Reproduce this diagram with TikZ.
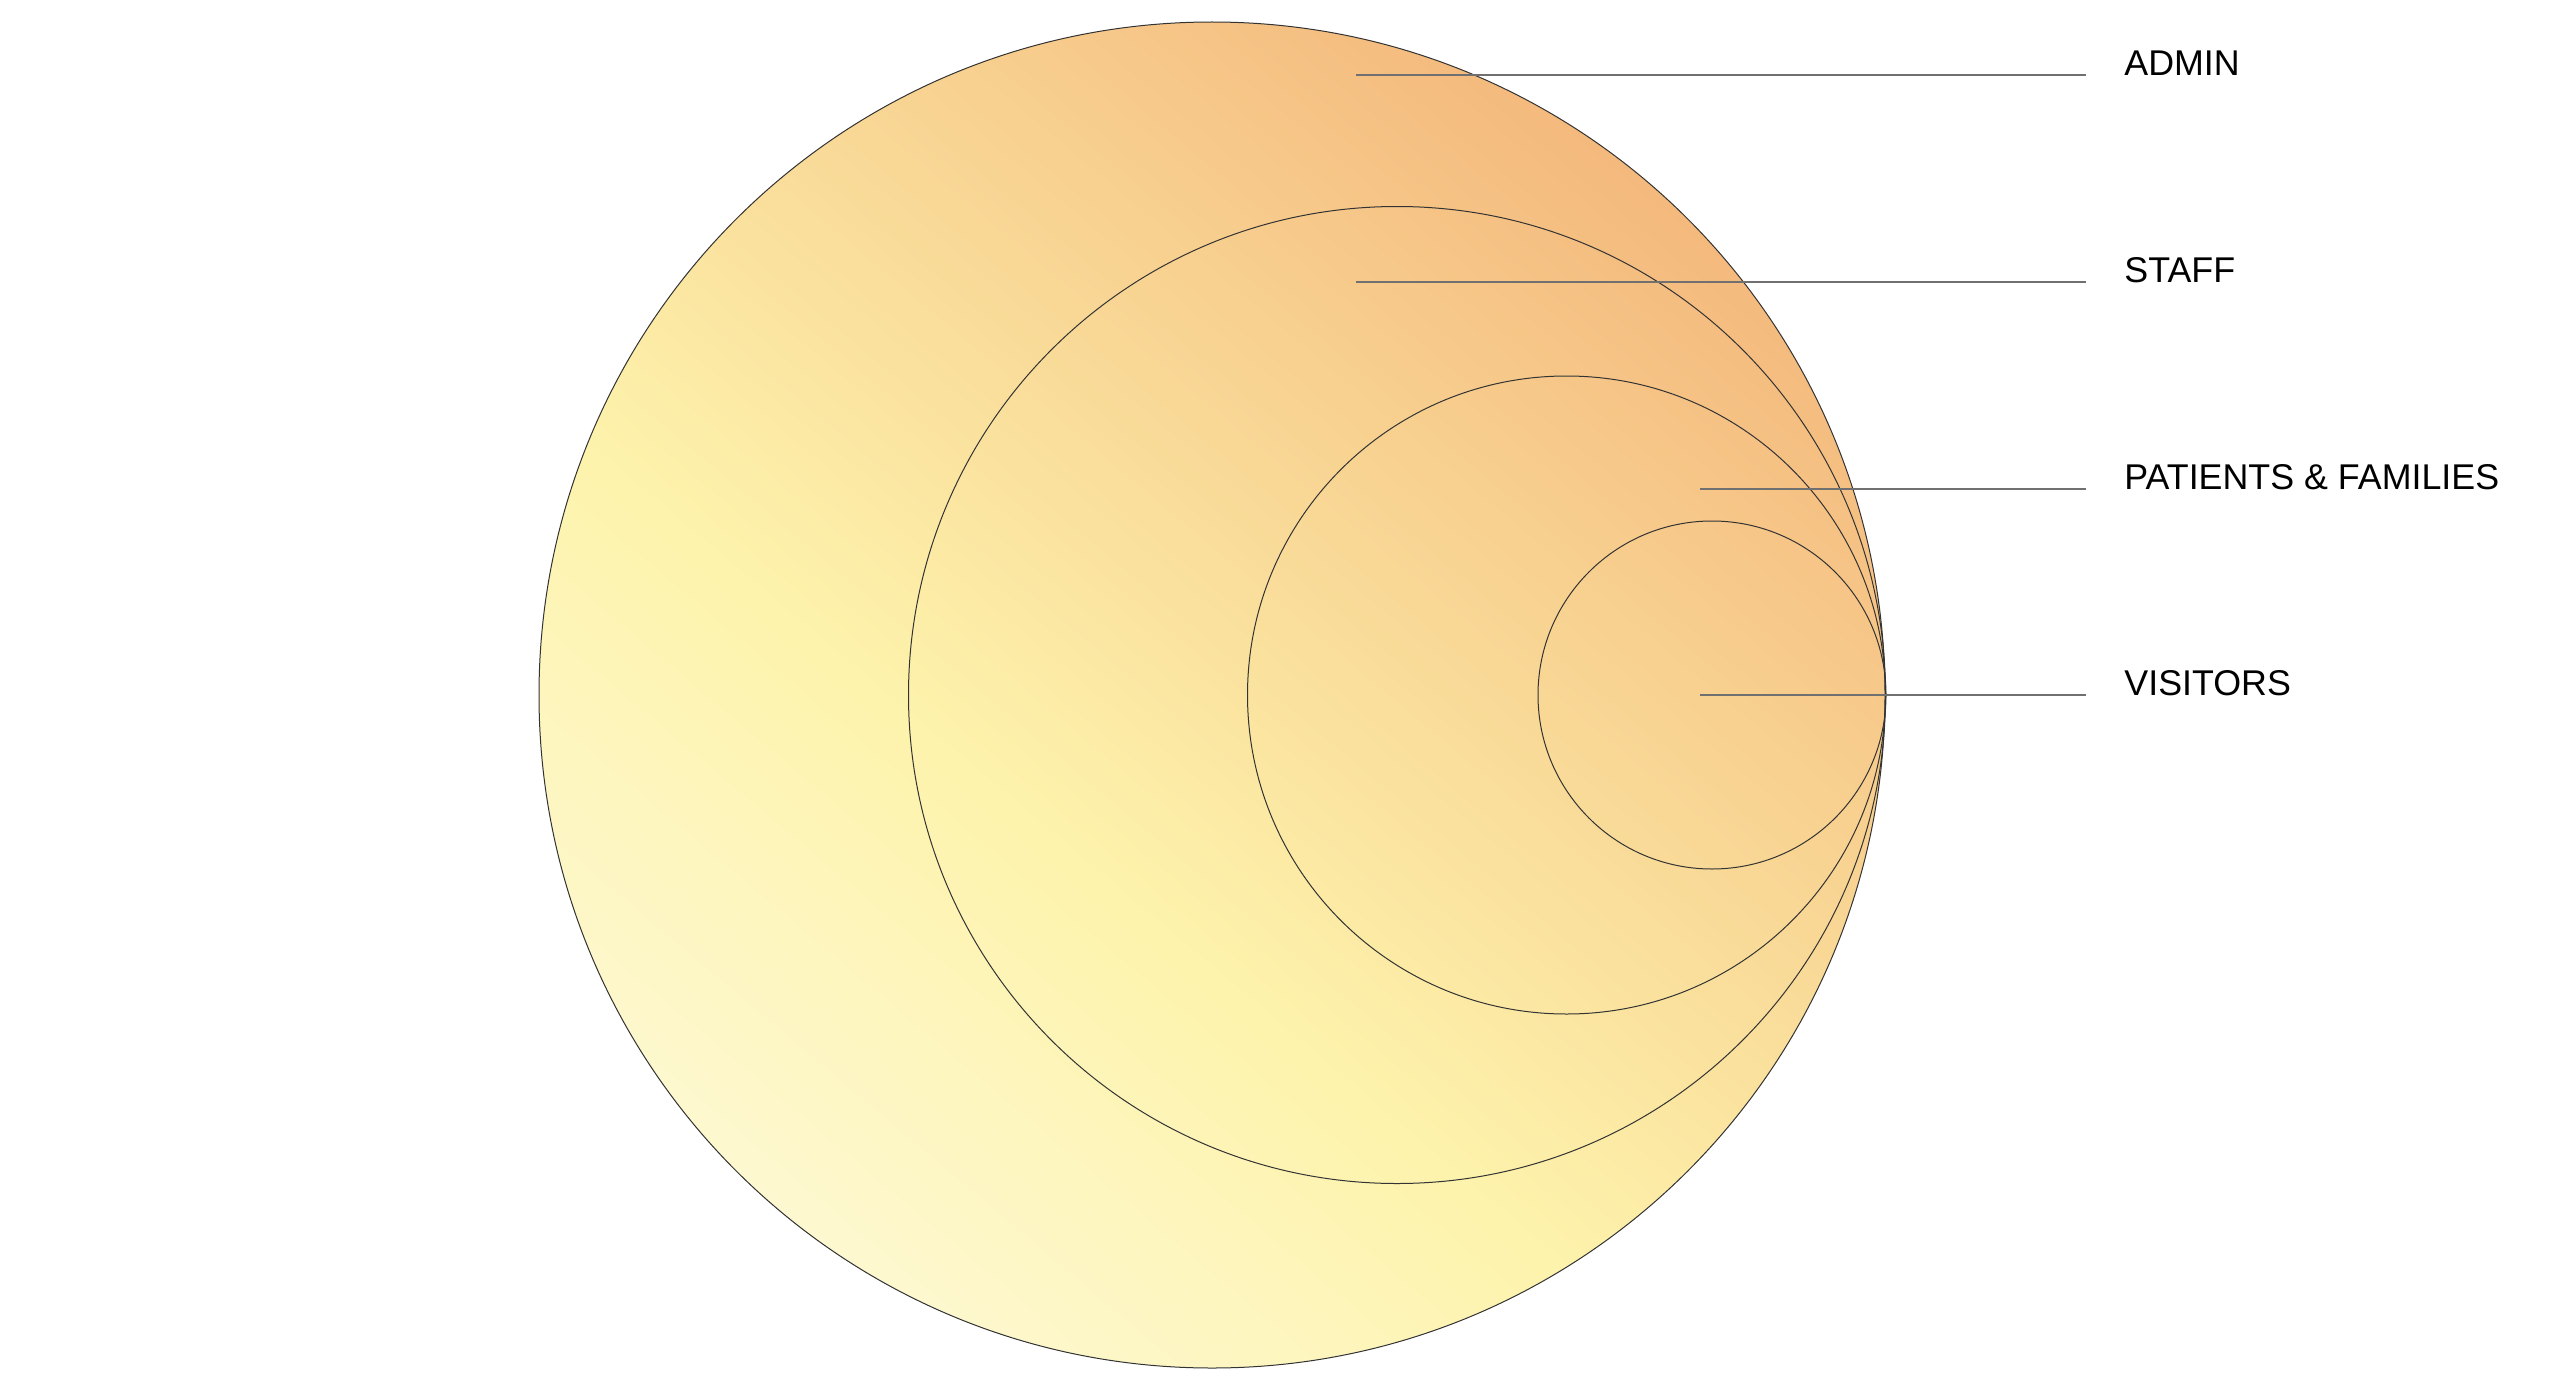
\documentclass[tikz,border=0pt]{standalone}
\usepackage{fontspec}
\setmainfont{Liberation Sans}
\definecolor{zonecream}{HTML}{FDF8CF}
\definecolor{zoneyellow}{HTML}{FDF3AC}
\definecolor{zoneorange}{HTML}{F4B97D}
\definecolor{ringline}{HTML}{333333}
\definecolor{leadline}{HTML}{707070}
\pgfdeclareverticalshading{zonefill}{100bp}{color(0bp)=(zonecream); color(25bp)=(zonecream); color(42bp)=(zoneyellow); color(75bp)=(zoneorange); color(100bp)=(zoneorange)}
\begin{document}
\begin{tikzpicture}[x=0.5pt,y=-0.5pt]
\useasboundingbox (0,0) rectangle (2560,1386);
\tikzset{ring/.style={draw=ringline, circle, line width=0.5pt, inner sep=0pt}}
\tikzset{tag/.style={anchor=base west, inner sep=0pt, font=\fontsize{17.9}{21}\selectfont}}

\node[ring, minimum size=673pt, shading=zonefill, shading angle=-40] (admin) at (1212,695) {};
\node[ring, minimum size=488.5pt] (staff) at (1397,695) {};
\node[ring, minimum size=319pt] (patients) at (1566.5,695) {};
\node[ring, minimum size=174pt] (visitors) at (1712,695) {};

\coordinate (a1) at (1356,75);
\coordinate (a2) at (1356,282);
\coordinate (a3) at (1700,489);
\coordinate (a4) at (1700,695);

\node[tag] (ladmin) at (2124,76) {ADMIN};
\node[tag] (lstaff) at (2124,282) {STAFF};
\node[tag] (lpatients) at (2124,489) {PATIENTS \& FAMILIES};
\node[tag] (lvisitors) at (2124,695) {VISITORS};

\path[draw=leadline,line width=0.75pt,shorten >=19pt] (a1) -- (a1 -| ladmin.west);
\path[draw=leadline,line width=0.75pt,shorten >=19pt] (a2) -- (a2 -| lstaff.west);
\path[draw=leadline,line width=0.75pt,shorten >=19pt] (a3) -- (a3 -| lpatients.west);
\path[draw=leadline,line width=0.75pt,shorten >=19pt] (a4) -- (a4 -| lvisitors.west);
\end{tikzpicture}
\end{document}
